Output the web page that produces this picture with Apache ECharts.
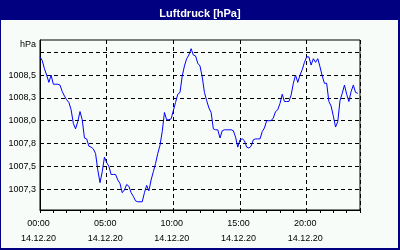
<!DOCTYPE html>
<html><head><meta charset="utf-8">
<script src="https://cdn.jsdelivr.net/npm/echarts@6/dist/echarts.min.js"></script>
<style>html,body{margin:0;padding:0;background:#000080}#c{width:400px;height:250px}</style>
</head><body><div id="c"></div>
<script>
const titleText = 'Luftdruck [hPa]';
const unitLabel = 'hPa';
const dateLabel = '14.12.20';
const xTickHours = [0, 5, 10, 15, 20];
const xTickLabels = ['00:00', '05:00', '10:00', '15:00', '20:00'];
const yGridValues = [1007.25, 1007.5, 1007.75, 1008.0, 1008.25, 1008.5, 1008.75];
const yLabelValues = [1007.25, 1007.5, 1007.75, 1008.0, 1008.25, 1008.5];
const yTickLabels = ['1007,3', '1007,5', '1007,8', '1008,0', '1008,3', '1008,5'];
const sampleMinutes = 10;
const pressure = [
  1008.70, 1008.66, 1008.57, 1008.50, 1008.42, 1008.50, 1008.40, 1008.40, 1008.40, 1008.39,
  1008.32, 1008.27, 1008.23, 1008.20, 1008.12, 1007.97, 1007.91, 1007.99, 1008.10, 1008.01,
  1007.81, 1007.80, 1007.72, 1007.71, 1007.69, 1007.64, 1007.46, 1007.32, 1007.44, 1007.60,
  1007.54, 1007.50, 1007.41, 1007.41, 1007.41, 1007.35, 1007.31, 1007.21, 1007.24, 1007.30,
  1007.28, 1007.21, 1007.17, 1007.12, 1007.11, 1007.11, 1007.11, 1007.21, 1007.29, 1007.23,
  1007.35, 1007.44, 1007.53, 1007.64, 1007.73, 1007.88, 1008.09, 1008.01, 1008.01, 1008.02,
  1008.11, 1008.20, 1008.29, 1008.31, 1008.49, 1008.60, 1008.68, 1008.72, 1008.79, 1008.72,
  1008.71, 1008.63, 1008.60, 1008.48, 1008.31, 1008.22, 1008.14, 1008.09, 1007.91, 1007.90,
  1007.90, 1007.81, 1007.89, 1007.90, 1007.90, 1007.90, 1007.90, 1007.89, 1007.82, 1007.71,
  1007.79, 1007.80, 1007.78, 1007.71, 1007.70, 1007.72, 1007.79, 1007.80, 1007.80, 1007.80,
  1007.88, 1007.92, 1008.00, 1008.00, 1008.00, 1008.03, 1008.10, 1008.12, 1008.19, 1008.29,
  1008.21, 1008.21, 1008.21, 1008.28, 1008.41, 1008.50, 1008.42, 1008.50, 1008.56, 1008.64,
  1008.70, 1008.70, 1008.61, 1008.68, 1008.64, 1008.68, 1008.59, 1008.49, 1008.41, 1008.41,
  1008.21, 1008.16, 1008.05, 1007.93, 1007.99, 1008.22, 1008.30, 1008.39, 1008.29, 1008.21,
  1008.32, 1008.39, 1008.31, 1008.30
];

const FONT = 'Liberation Sans';
const chart = echarts.init(document.getElementById('c'), null, {renderer: 'canvas'});
const seriesData = pressure.map((v, i) => [i * sampleMinutes / 60, v]);

chart.setOption({
  backgroundColor: '#000080',
  animation: false,
  title: {
    text: titleText, left: 'center', top: 3,
    textStyle: {color: '#ffffff', fontWeight: 'bold', fontSize: 11, fontFamily: FONT}
  },
  graphic: [{
    type: 'rect', z: -10, silent: true,
    shape: {x: 1, y: 20, width: 397, height: 228},
    style: {fill: '#f8fcf8'}
  }],
  grid: {left: 40, right: 40, top: 40, bottom: 40, show: true, borderColor: '#000', borderWidth: 1, backgroundColor: 'transparent'},
  xAxis: [{
    type: 'value', min: 0, max: 24, interval: 5, position: 'bottom',
    axisLine: {show: true, lineStyle: {color: '#000', width: 1}},
    axisTick: {show: false},
    splitLine: {show: true, lineStyle: {color: '#000', type: [4, 3], width: 1}},
    axisLabel: {
      show: true, margin: 6, color: '#000', fontFamily: FONT, fontSize: 9, lineHeight: 15,
      padding: [0, 3, 0, 0], showMaxLabel: false,
      formatter: function (val) {
        for (let i = 0; i < xTickHours.length; i++) {
          if (Math.abs(xTickHours[i] - val) < 1e-6) return xTickLabels[i] + '\n' + dateLabel;
        }
        return '';
      }
    }
  }, {
    type: 'value', min: 0, max: 24, interval: 1, position: 'bottom', offset: 0,
    axisLine: {show: false},
    axisTick: {show: true, length: 3, lineStyle: {color: '#000', width: 1}},
    splitLine: {show: false},
    axisLabel: {show: false}
  }],
  yAxis: {
    type: 'value', min: 1007.02, max: 1008.885,
    name: unitLabel, nameLocation: 'end', nameGap: -5,
    nameTextStyle: {color: '#000', fontFamily: FONT, fontSize: 9, align: 'right', verticalAlign: 'middle', padding: [0, 4, 0, 0]},
    axisLine: {show: true, lineStyle: {color: '#000', width: 1}},
    axisTick: {show: false, customValues: yGridValues},
    splitLine: {show: true, lineStyle: {color: '#000', type: [4, 3], width: 1}},
    axisLabel: {
      show: true, margin: 4, color: '#000', fontFamily: FONT, fontSize: 9,
      customValues: yLabelValues,
      formatter: function (val) {
        for (let i = 0; i < yLabelValues.length; i++) {
          if (Math.abs(yLabelValues[i] - val) < 1e-6) return yTickLabels[i];
        }
        return '';
      }
    }
  },
  series: [{
    type: 'line', xAxisIndex: 0, data: seriesData, showSymbol: false, symbol: 'none',
    lineStyle: {color: '#0000ff', width: 1}, z: 5
  }]
});
</script></body></html>
